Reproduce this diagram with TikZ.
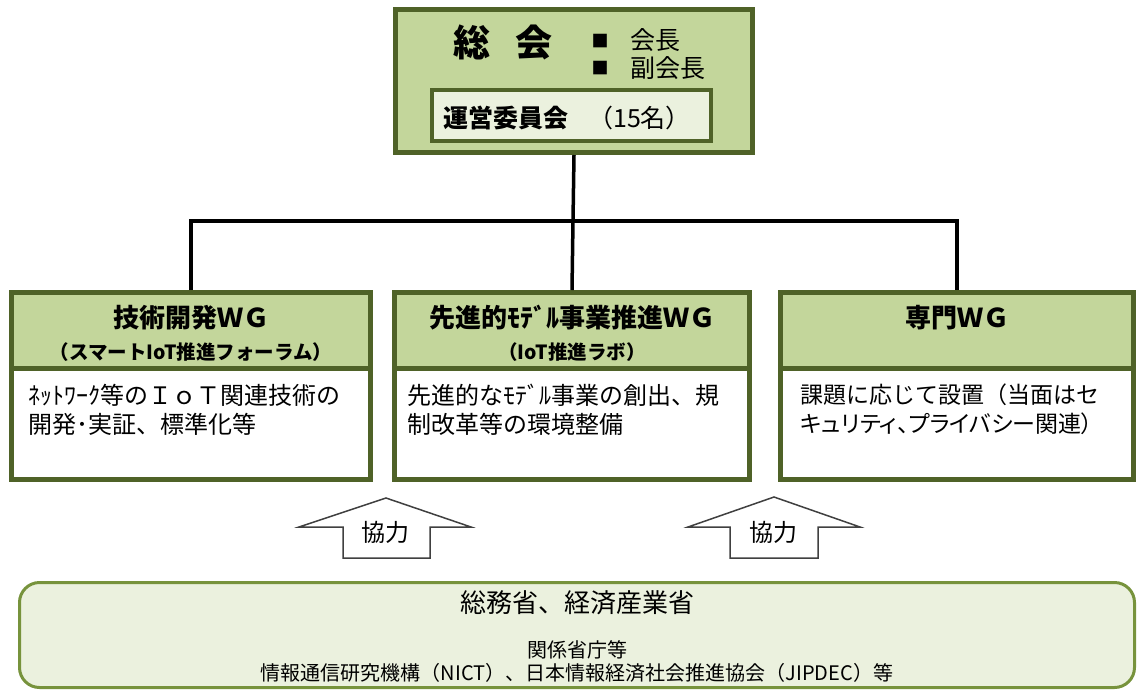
\documentclass[tikz,border=0pt]{standalone}
\usepackage{fontspec}
\setmainfont{Noto Sans CJK JP}
\newfontfamily\propfont[RawFeature=+palt]{Noto Sans CJK JP}
\definecolor{greenA}{HTML}{C3D69B}
\definecolor{dkgreen}{HTML}{4F6228}
\definecolor{lightG}{HTML}{EBF1DE}
\definecolor{midgreen}{HTML}{77933C}
\definecolor{arrowgray}{HTML}{404040}
\newcommand{\fs}[1]{\fontsize{#1}{#1}\selectfont}
\begin{document}
\begin{tikzpicture}[x=1pt,y=-1pt,
  box/.style={draw=dkgreen, line width=5pt, inner sep=0pt},
  hdr/.style={box, fill=greenA, minimum height=75.5pt},
  bdy/.style={box, fill=white, minimum height=111.5pt},
  conn/.style={line width=3.5pt, black},
  blockarrow/.style={draw=arrowgray, line width=1.5pt, fill=white, line join=miter},
  wgtitle/.style={font=\bfseries\fs{26}, inner sep=0pt},
  wgsub/.style={font=\bfseries\fs{19.5}, inner sep=0pt},
  bodytext/.style={font=\fontsize{24}{29}\selectfont, align=left, anchor=north west, inner sep=0pt},
  txt/.style={inner sep=0pt}
]
\useasboundingbox (0,0) rectangle (1138,689);

% top box
\node[box, fill=greenA, minimum width=357pt, minimum height=143pt] (top) at (574,81) {};
\node[box, line width=4pt, fill=lightG, minimum width=279pt, minimum height=51pt] (council) at (571.5,115.5) {};
\node[txt, font=\bfseries\fs{37}] (soukai) at (503,42) {総\hspace{25pt}会};
\node[txt, font=\fs{17}] (b1) at (600,41) {■};
\node[txt, font=\fs{17}] (b2) at (600,68) {■};
\node[txt, font=\fs{25}, anchor=west] (kaicho) at (630,40) {会長};
\node[txt, font=\fs{25}, anchor=west] (fuku) at (630,68) {副会長};
\node[txt, font=\fs{25}, anchor=west] (unei) at (443,118) {{\bfseries 運営委員会}\hspace{20pt}（15名）};

% WG boxes
\node[hdr, minimum width=359pt] (h1) at (191,330.25) {};
\node[bdy, minimum width=359pt] (d1) at (191,423.75) {};
\node[hdr, minimum width=355pt] (h2) at (572,330.25) {};
\node[bdy, minimum width=355pt] (d2) at (572,423.75) {};
\node[hdr, minimum width=353pt] (h3) at (957,330.25) {};
\node[bdy, minimum width=353pt] (d3) at (957,423.75) {};

\node[wgtitle] (t1) at (191,318) {技術開発ＷＧ};
\node[wgsub] (s1) at (191,352) {（スマートIoT推進フォーラム）};
\node[wgtitle] (t2) at (572,318) {先進的ﾓﾃﾞﾙ事業推進ＷＧ};
\node[wgsub] (s2) at (572,352) {（IoT推進ラボ）};
\node[wgtitle] (t3) at (957,318) {専門ＷＧ};

\node[bodytext] (x1) at (28,384) {ﾈｯﾄﾜｰｸ等のＩｏＴ関連技術の\\開発･実証、標準化等};
\node[bodytext] (x2) at (407,384) {先進的なﾓﾃﾞﾙ事業の創出、規\\制改革等の環境整備};
\node[bodytext, font=\fontsize{23}{29}\selectfont] (x3) at (800,384) {課題に応じて設置（当面はセ\\{\propfont キュリティ、プライバシー関連）}};

% connectors
\coordinate (j) at (573,221);
\draw[conn] (top.south) -- (j);
\draw[conn] (h1.north) -- (h1.north |- j) -- (h3.north |- j) -- (h3.north);
\draw[conn] (j) -- (h2.north);

% cooperation arrows
\draw[blockarrow] (386,498) -- (471,527) -- (430,527) -- (430,558) -- (343,558) -- (343,527) -- (299,527) -- cycle;
\node[txt, font=\fs{24}] (k1) at (385,532) {協力};
\draw[blockarrow] (774,497) -- (860,527) -- (818,527) -- (818,558) -- (730,558) -- (730,527) -- (688,527) -- cycle;
\node[txt, font=\fs{24}] (k2) at (773,532) {協力};

% bottom box
\node[draw=midgreen, line width=3pt, fill=lightG, rounded corners=20pt, minimum width=1115pt, minimum height=105pt, inner sep=0pt] (govt) at (577,635) {};
\node[txt, font=\fs{26}] (g1) at (577,603) {総務省、経済産業省};
\node[txt, font=\fs{20}] (g2) at (577,650) {関係省庁等};
\node[txt, font=\fs{20}] (g3) at (577,673) {情報通信研究機構（NICT）、日本情報経済社会推進協会（JIPDEC）等};
\end{tikzpicture}
\end{document}
